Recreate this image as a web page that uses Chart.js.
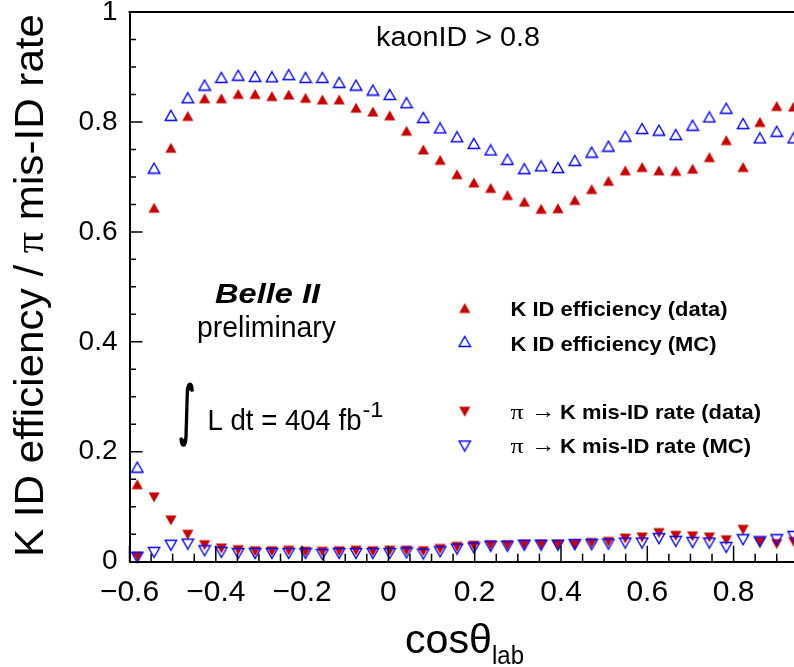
<!DOCTYPE html>
<html>
<head>
<meta charset="utf-8">
<title>K ID efficiency vs cos theta</title>
<script src="https://cdn.jsdelivr.net/npm/chart.js@4.4.1/dist/chart.umd.min.js"></script>
<style>
  html, body { margin: 0; padding: 0; background: #fff; }
  canvas { display: block; }
</style>
</head>
<body>
<canvas id="myChart" width="794" height="667"></canvas>
<script>
// bin centres in cos(theta_lab)
let cosTheta = [-0.582, -0.543, -0.504, -0.465, -0.426, -0.387, -0.348, -0.309, -0.270, -0.231,
                -0.192, -0.153, -0.114, -0.075, -0.036, 0.003, 0.042, 0.081, 0.120, 0.159,
                0.198, 0.237, 0.276, 0.315, 0.354, 0.393, 0.432, 0.471, 0.510, 0.549,
                0.588, 0.627, 0.666, 0.705, 0.744, 0.783, 0.822, 0.861, 0.900, 0.939];

let kEffData = [0.141, 0.644, 0.753, 0.811, 0.843, 0.843, 0.851, 0.851, 0.847, 0.850,
                0.844, 0.841, 0.841, 0.826, 0.819, 0.812, 0.784, 0.750, 0.731, 0.705,
                0.690, 0.680, 0.667, 0.655, 0.642, 0.643, 0.658, 0.678, 0.693, 0.712,
                0.718, 0.712, 0.711, 0.715, 0.736, 0.767, 0.718, 0.800, 0.829, 0.828];

let kEffMC = [0.172, 0.716, 0.812, 0.844, 0.867, 0.881, 0.885, 0.883, 0.882, 0.886,
              0.881, 0.881, 0.872, 0.867, 0.858, 0.850, 0.835, 0.808, 0.789, 0.773,
              0.761, 0.749, 0.732, 0.715, 0.720, 0.717, 0.730, 0.745, 0.756, 0.774,
              0.788, 0.785, 0.777, 0.794, 0.809, 0.825, 0.797, 0.771, 0.783, 0.771];

let misIdData = [0.009, 0.117, 0.075, 0.049, 0.030, 0.024, 0.021, 0.019, 0.019, 0.020,
                 0.018, 0.018, 0.019, 0.020, 0.019, 0.020, 0.020, 0.019, 0.023, 0.027,
                 0.029, 0.030, 0.030, 0.031, 0.031, 0.031, 0.031, 0.034, 0.036, 0.042,
                 0.044, 0.052, 0.047, 0.046, 0.044, 0.039, 0.058, 0.036, 0.032, 0.036];

let misIdMC = [0.008, 0.017, 0.030, 0.032, 0.020, 0.017, 0.015, 0.015, 0.015, 0.015,
               0.015, 0.013, 0.015, 0.015, 0.015, 0.015, 0.016, 0.014, 0.018, 0.023,
               0.025, 0.028, 0.028, 0.030, 0.030, 0.030, 0.031, 0.031, 0.032, 0.034,
               0.034, 0.042, 0.037, 0.035, 0.034, 0.026, 0.040, 0.036, 0.040, 0.046];

let xTicks = [-0.6, -0.4, -0.2, 0, 0.2, 0.4, 0.6, 0.8];
let yTicks = [0, 0.2, 0.4, 0.6, 0.8, 1];

let legendLabels = ['K ID efficiency (data)', 'K ID efficiency (MC)', 'K mis-ID rate (data)', 'K mis-ID rate (MC)'];

const sans = '"Liberation Sans", Arial, Helvetica, sans-serif';
const serif = '"Liberation Serif", "Times New Roman", serif';
const red = '#cc0000';
const blue = '#0000ff';

// ROOT-like triangle markers, centred on their bounding box
function makeMarker(color, filled, down) {
  let c = document.createElement('canvas');
  c.width = 14; c.height = 13;
  let g = c.getContext('2d');
  let hw = filled ? 5.6 : 5.7;
  let hh = filled ? 5.1 : 5.0;
  let cx = 7, cy = 6.5;
  let tip = down ? cy + hh : cy - hh;
  let base = down ? cy - hh : cy + hh;
  g.beginPath();
  g.moveTo(cx, tip);
  g.lineTo(cx + hw, base);
  g.lineTo(cx - hw, base);
  g.closePath();
  if (filled) {
    g.fillStyle = color;
    g.fill();
  } else {
    g.strokeStyle = color;
    g.lineWidth = 1.4;
    g.stroke();
  }
  return c;
}

let mkEffData = makeMarker(red, true, false);
let mkEffMC = makeMarker(blue, false, false);
let mkMisData = makeMarker(red, true, true);
let mkMisMC = makeMarker(blue, false, true);

function pts(ys) {
  return cosTheta.map(function(x, i) { return { x: x, y: ys[i] }; });
}

function fmt(v) {
  let s = String(Math.round(v * 10) / 10);
  return s.replace('-', '\u2212');
}

// draws a run of text pieces, squeezed/stretched to a given width
function drawRun(ctx, parts, x, y, width, angle) {
  ctx.save();
  let total = 0;
  parts.forEach(function(p) { ctx.font = p[1]; total += ctx.measureText(p[0]).width; });
  ctx.translate(x, y);
  if (angle) ctx.rotate(angle);
  ctx.scale(width / total, 1);
  ctx.fillStyle = '#000';
  ctx.textAlign = 'left';
  ctx.textBaseline = 'alphabetic';
  let pos = 0;
  parts.forEach(function(p) {
    ctx.font = p[1];
    ctx.fillText(p[0], pos, 0);
    pos += ctx.measureText(p[0]).width;
  });
  ctx.restore();
}

// glyph fitted into a box (used for the integral sign)
function drawGlyph(ctx, text, font, left, top, w, h) {
  ctx.save();
  ctx.font = font;
  let m = ctx.measureText(text);
  let bw = m.actualBoundingBoxLeft + m.actualBoundingBoxRight;
  let bh = m.actualBoundingBoxAscent + m.actualBoundingBoxDescent;
  ctx.translate(left, top);
  ctx.scale(w / bw, h / bh);
  ctx.fillStyle = '#000';
  ctx.textAlign = 'left';
  ctx.textBaseline = 'alphabetic';
  ctx.fillText(text, m.actualBoundingBoxLeft, m.actualBoundingBoxAscent);
  ctx.restore();
}

const decorations = {
  id: 'decorations',
  afterDraw: function(chart) {
    let ctx = chart.ctx;
    let a = chart.chartArea;
    let xs = chart.scales.x;
    let ys = chart.scales.y;
    ctx.save();
    ctx.strokeStyle = '#000';

    // top frame line
    ctx.lineWidth = 2;
    ctx.beginPath();
    ctx.moveTo(a.left - 1, a.top);
    ctx.lineTo(a.right, a.top);
    ctx.stroke();

    // inward ticks
    ctx.lineWidth = 1.5;
    ctx.beginPath();
    for (let i = 0; i <= 20; i++) {
      let py = ys.getPixelForValue(i * 0.05);
      let len = i % 4 === 0 ? 13 : 6.5;
      ctx.moveTo(a.left, py);
      ctx.lineTo(a.left + len, py);
    }
    for (let i = 0; -0.6 + i * 0.05 <= xs.max + 1e-9; i++) {
      let px = xs.getPixelForValue(-0.6 + i * 0.05);
      let len = i % 4 === 0 ? 16 : 8;
      ctx.moveTo(px, a.bottom);
      ctx.lineTo(px, a.bottom - len);
    }
    ctx.stroke();
    ctx.restore();

    // axis titles
    drawRun(ctx, [['K ID efficiency / ', '40px ' + sans], ['\u03c0', '40px ' + serif], [' mis-ID rate', '40px ' + sans]],
            43, 557, 543, -Math.PI / 2);
    drawRun(ctx, [['cos\u03b8', '40px ' + sans]], 405, 653, 87);
    drawRun(ctx, [['lab', '26px ' + sans]], 492, 664, 32);

    // labels inside the frame
    drawRun(ctx, [['kaonID > 0.8', '27px ' + sans]], 376, 45.5, 164);
    drawRun(ctx, [['Belle II', 'italic bold 27px ' + sans]], 215, 302.7, 105);
    drawRun(ctx, [['preliminary', '30px ' + sans]], 197, 337.3, 139);
    drawGlyph(ctx, '\u222b', 'bold 60px "DejaVu Sans"', 179, 381.5, 15, 65.5);
    drawRun(ctx, [['L dt = 404 fb', '29px ' + sans]], 207.5, 430, 154);
    drawRun(ctx, [['-1', '22px ' + sans]], 362.5, 416.7, 21);

    // legend
    let rows = [
      { img: mkEffData, y: 308, base: 316, pre: false, text: legendLabels[0], w: 217 },
      { img: mkEffMC, y: 341.5, base: 350.7, pre: false, text: legendLabels[1], w: 206 },
      { img: mkMisData, y: 411.7, base: 419.3, pre: true, text: legendLabels[2], w: 201 },
      { img: mkMisMC, y: 446, base: 453.3, pre: true, text: legendLabels[3], w: 191 }
    ];
    rows.forEach(function(r) {
      ctx.drawImage(r.img, 464.7 - r.img.width / 2, r.y - r.img.height / 2);
      if (r.pre) {
        drawRun(ctx, [['\u03c0', '22px ' + serif]], 510.5, r.base, 13);
        drawRun(ctx, [['\u2192', '22px ' + serif]], 531.5, r.base - 1, 24);
        drawRun(ctx, [[r.text, 'bold 21px ' + sans]], 560, r.base, r.w);
      } else {
        drawRun(ctx, [[r.text, 'bold 21px ' + sans]], 510.5, r.base, r.w);
      }
    });
  }
};

function createChart() {
  let ctx = document.getElementById('myChart').getContext('2d');
  new Chart(ctx, {
    type: 'scatter',
    data: {
      datasets: [
        { label: 'K ID efficiency (MC)', data: pts(kEffMC), pointStyle: mkEffMC, order: 0 },
        { label: 'pi -> K mis-ID rate (MC)', data: pts(misIdMC), pointStyle: mkMisMC, order: 1 },
        { label: 'K ID efficiency (data)', data: pts(kEffData), pointStyle: mkEffData, order: 2 },
        { label: 'pi -> K mis-ID rate (data)', data: pts(misIdData), pointStyle: mkMisData, order: 3 }
      ].map(function(d) {
        d.pointRadius = 6;
        d.showLine = false;
        d.clip = false;
        return d;
      })
    },
    options: {
      responsive: false,
      animation: false,
      events: [],
      layout: { autoPadding: false, padding: { top: 12, left: 0, right: 0, bottom: 0 } },
      plugins: {
        legend: { display: false },
        tooltip: { enabled: false }
      },
      scales: {
        x: {
          type: 'linear',
          min: -0.6,
          max: 0.94,
          afterBuildTicks: function(s) { s.ticks = xTicks.map(function(v) { return { value: v }; }); },
          afterFit: function(s) {
            s.height = 105.3;
            s.paddingLeft = 0;
            s.paddingRight = 0;
          },
          grid: { display: false, drawTicks: false },
          border: { display: true, color: '#000', width: 2 },
          ticks: {
            color: '#000',
            font: { family: sans, size: 30, lineHeight: 0.8 },
            padding: 19,
            maxRotation: 0,
            autoSkip: false,
            callback: function(v) { return fmt(v); }
          }
        },
        y: {
          type: 'linear',
          min: 0,
          max: 1,
          afterBuildTicks: function(s) { s.ticks = yTicks.map(function(v) { return { value: v }; }); },
          afterFit: function(s) {
            s.width = 129.5;
            s.paddingTop = 0;
            s.paddingBottom = 0;
          },
          grid: { display: false, drawTicks: false },
          border: { display: true, color: '#000', width: 2 },
          ticks: {
            color: '#000',
            font: { family: sans, size: 28, lineHeight: 0.8 },
            padding: 12,
            callback: function(v) { return fmt(v); }
          }
        }
      }
    },
    plugins: [decorations]
  });
}

createChart();
</script>
</body>
</html>
